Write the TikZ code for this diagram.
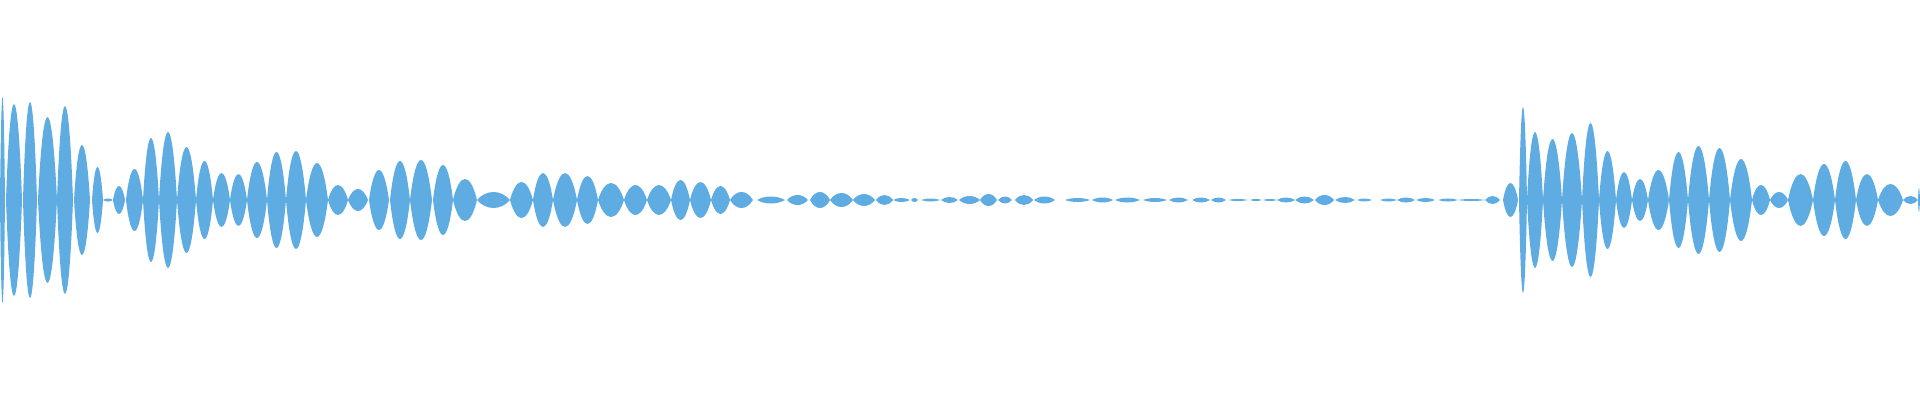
\documentclass[tikz,border=0pt]{standalone}
\usepackage{tikz}
\definecolor{wave}{RGB}{94,172,226}
\newcommand{\wavelobe}[3]{\fill[wave] (#1,200)
  .. controls ({#1+0.28*(#2-#1)},{200+1.333*#3}) and ({#2-0.28*(#2-#1)},{200+1.333*#3}) .. (#2,200)
  .. controls ({#2-0.28*(#2-#1)},{200-1.333*#3}) and ({#1+0.28*(#2-#1)},{200-1.333*#3}) .. (#1,200) -- cycle;}

\begin{document}
\begin{tikzpicture}[x=1pt, y=1pt]
  \useasboundingbox (0,0) rectangle (1920,400);

  % First burst
  % -----------
  \foreach \a/\b/\amp in {0/5/103, 6/22/96, 23/37/98, 38/57/83, 57/73/94, 74/90/55,
    92/103/33, 103/113/1.5, 113/125/14, 126/143/31, 143/159/62, 159/177/68,
    177/196/53, 196/213/39, 213/230/27, 230/247/26, 247/267/38, 267/286/48,
    286/306/49, 306/328/37, 328/348/15, 348/368/11, 369/389/30, 390/410/39,
    410/432/40, 433/453/35, 453/477/21, 477/510/8, 510/533/18, 533/553/27,
    553/577/27, 577/598/24, 598/624/17, 624/647/15, 647/671/15, 671/690/20,
    690/711/18, 711/730/14, 730/753/8}
  {\wavelobe{\a}{\b}{\amp}}

  % Quiet part
  % ----------
  \foreach \a/\b/\amp in {757/785/3.5, 787/808/5, 810/830/8, 830/853/7, 853/875/6,
    876/893/5, 893/910/2, 911/918/2, 921/940/1.5, 941/958/3, 959/980/4,
    980/997/6, 998/1012/3.5, 1015/1033/5, 1034/1055/3.5, 1065/1090/2,
    1092/1113/2.5, 1115/1140/2.5, 1143/1167/2, 1169/1188/2.5, 1192/1210/2.5,
    1211/1226/2.5, 1228/1248/1, 1250/1262/1, 1263/1277/1, 1277/1295/2.5,
    1295/1314/3.5, 1315/1334/5, 1335/1355/3, 1357/1372/1.5, 1380/1397/1.5,
    1397/1415/2.5, 1416/1435/2, 1438/1458/1.5, 1458/1485/1, 1485/1500/4}
  {\wavelobe{\a}{\b}{\amp}}

  % Second burst
  % ------------
  \foreach \a/\b/\amp in {1503/1518/17, 1519/1527/93, 1527/1543/68, 1543/1562/61,
    1562/1582/67, 1582/1599/77, 1599/1616/49, 1616/1632/28, 1632/1648/21,
    1648/1669/30, 1669/1688/48, 1688/1709/54, 1709/1730/52, 1730/1752/41,
    1752/1770/15, 1770/1788/8, 1788/1813/26, 1813/1835/36, 1835/1856/39,
    1856/1878/26, 1878/1903/16, 1903/1918/4, 1918/1920/12}
  {\wavelobe{\a}{\b}{\amp}}
\end{tikzpicture}
\end{document}
